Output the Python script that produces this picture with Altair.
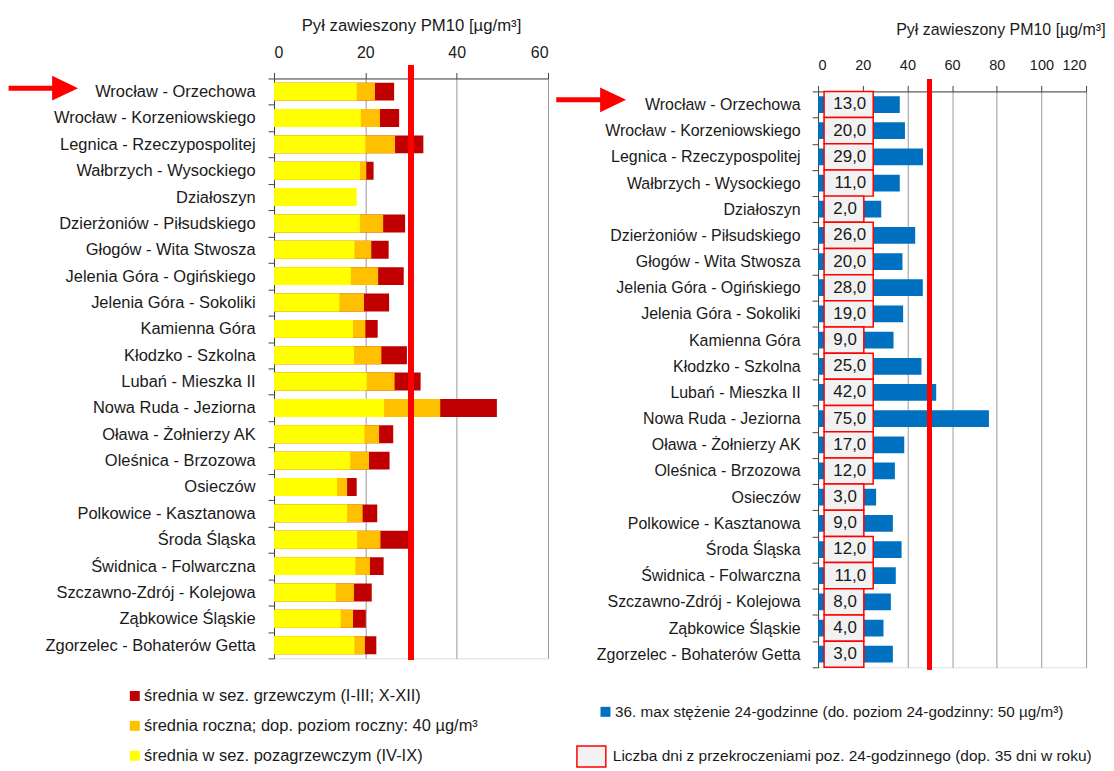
import altair as alt
import pandas as pd

stations = ["Wrocław - Orzechowa", "Wrocław - Korzeniowskiego", "Legnica - Rzeczypospolitej",
            "Wałbrzych - Wysockiego", "Działoszyn", "Dzierżoniów - Piłsudskiego",
            "Głogów - Wita Stwosza", "Jelenia Góra - Ogińskiego", "Jelenia Góra - Sokoliki",
            "Kamienna Góra", "Kłodzko - Szkolna", "Lubań - Mieszka II", "Nowa Ruda - Jeziorna",
            "Oława - Żołnierzy AK", "Oleśnica - Brzozowa", "Osieczów", "Polkowice - Kasztanowa",
            "Środa Śląska", "Świdnica - Folwarczna", "Szczawno-Zdrój - Kolejowa",
            "Ząbkowice Śląskie", "Zgorzelec - Bohaterów Getta"]

nonheating = [18.1, 19.0, 20.0, 18.8, 18.1, 18.8, 17.6, 16.8, 14.3, 17.3, 17.5,
              20.3, 24.1, 19.8, 16.7, 13.8, 16.0, 18.2, 17.8, 13.5, 14.6, 17.6]
annual = [22.1, 23.2, 26.5, 20.2, None, 23.9, 21.3, 22.8, 19.7, 20.0, 23.5,
          26.4, 36.4, 23.0, 20.8, 16.0, 19.4, 23.3, 21.0, 17.5, 17.3, 19.9]
heating = [26.3, 27.4, 32.7, 21.8, None, 28.7, 25.1, 28.4, 25.2, 22.7, 29.1,
           32.1, 48.8, 26.1, 25.3, 18.1, 22.6, 29.4, 24.0, 21.4, 20.1, 22.4]
max36 = [36.6, 38.9, 47.0, 36.6, 28.3, 43.5, 37.8, 46.9, 38.1, 33.8, 46.3,
         52.9, 76.5, 38.6, 34.4, 26.0, 33.5, 37.4, 34.8, 32.6, 29.3, 33.5]
exceed_days = [13, 20, 29, 11, 2, 26, 20, 28, 19, 9, 25, 42, 75, 17, 12, 3, 9, 12, 11, 8, 4, 3]

series_names = ["średnia w sez. grzewczym (I-III; X-XII)",
                "średnia roczna; dop. poziom roczny: 40 µg/m³",
                "średnia w sez. pozagrzewczym (IV-IX)"]
series_colors = ["#C00000", "#FFC000", "#FFFF00"]
blue_name = "36. max stężenie 24-godzinne (do. poziom 24-godzinny: 50 µg/m³)"
box_name = "Liczba dni z przekroczeniami poz. 24-godzinnego (dop. 35 dni w roku)"
axis_title = "Pył zawieszony PM10 [µg/m³]"
annual_limit_line = 30
daily_limit_line = 50
left_ticks = [0, 20, 40, 60]
right_ticks = [0, 20, 40, 60, 80, 100, 120]

FONT = "Liberation Sans"
TXT = "#1a1a1a"

# ---------- left data ----------
rows = []
for i, s in enumerate(stations):
    for k, (name, vals) in enumerate(zip(series_names, [heating, annual, nonheating])):
        if vals[i] is not None:
            rows.append({"station": s, "series": name, "value": vals[i], "draw": k})
left_df = pd.DataFrame(rows)
arrow_df = pd.DataFrame({"station": [stations[0]]})

right_df = pd.DataFrame({"station": stations, "max36": max36, "days": exceed_days})

H_L, W_L = 582, 275
H_R, W_R = 578, 269


def y_enc(font_size, pad):
    return alt.Y("station:N", sort=stations,
                 scale=alt.Scale(paddingInner=0, paddingOuter=0),
                 axis=alt.Axis(title=None, tickBand="extent", tickSize=6, labelPadding=pad,
                               labelFontSize=font_size, labelColor=TXT, labelFont=FONT,
                               labelLimit=400, domainColor="#444", tickColor="#444",
                               grid=False))


def extender(df, y_from, y_to):
    # invisible guide that fixes the panel's layout extent
    return alt.Chart(df).mark_rule(opacity=0, strokeWidth=0.1).encode(
        x=alt.value(0), y=alt.value(y_from), y2=alt.value(y_to))


def arrow(x_start, x_tip, dy):
    shaft = alt.Chart(arrow_df).mark_bar(height=5, color="#FF0000", yOffset=dy).encode(
        x=alt.value(x_start), x2=alt.value(x_tip - 20), y=alt.Y("station:N", sort=stations))
    head = alt.Chart(arrow_df).mark_point(shape="M-1,-0.96L1,0L-1,0.96Z", size=676, filled=True,
                                          color="#FF0000", opacity=1, strokeWidth=0,
                                          yOffset=dy).encode(
        x=alt.value(x_tip - 13), y=alt.Y("station:N", sort=stations))
    return shaft, head


# ---------- left chart ----------
left_bars = alt.Chart(left_df).mark_bar(height={"band": 0.68}).encode(
    x=alt.X("value:Q", stack=None, scale=alt.Scale(domain=[0, 60], nice=False),
            axis=alt.Axis(orient="top", values=left_ticks, tickSize=6, labelPadding=12.5,
                          labelFontSize=16, labelColor=TXT, labelFont=FONT,
                          title=axis_title, titleFontSize=16.8, titleFontWeight="normal",
                          titleFont=FONT, titleColor=TXT, titleX=W_L / 2, titleY=-53,
                          titleBaseline="middle", titleAlign="center",
                          gridColor="#9a9a9a", domainColor="#444", tickColor="#444")),
    y=y_enc(16.5, 13),
    color=alt.Color("series:N", scale=alt.Scale(domain=series_names, range=series_colors),
                    legend=alt.Legend(orient="none", legendX=-148, legendY=611.5, title=None,
                                      direction="vertical", symbolType="square",
                                      symbolSize=100, symbolStrokeWidth=0, labelFontSize=16.5,
                                      labelFont=FONT, labelColor=TXT, labelLimit=600,
                                      rowPadding=13, labelOffset=1, padding=0)),
    order=alt.Order("draw:Q"),
)

left_line = alt.Chart(left_df).mark_rule(color="#FF0000", strokeWidth=4.5).encode(
    x=alt.datum(annual_limit_line), y=alt.value(-13), y2=alt.value(H_L + 1))

left_shaft, left_head = arrow(-266.4, -196.7, -3.5)

left = alt.layer(left_bars, left_line, extender(left_df, -68, 0), extender(left_df, 0, 736),
                 left_shaft, left_head).properties(width=W_L, height=H_L)

# ---------- right chart ----------
base_r = alt.Chart(right_df).transform_calculate(
    bar_label=f"'{blue_name}'",
    box_label=f"'{box_name}'",
    box_start="2.7",
    box_end="datum.days >= 10 ? 24.7 : 20.5",
    label="replace(format(datum.days, '.1f'), '.', ',')",
)

right_bars = base_r.mark_bar(height={"band": 0.64}).encode(
    x=alt.X("max36:Q", scale=alt.Scale(domain=[0, 120], nice=False),
            axis=alt.Axis(orient="top", values=right_ticks, tickSize=6, labelPadding=12.5,
                          labelFontSize=14.5, labelColor=TXT, labelFont=FONT,
                          title=axis_title, titleFontSize=16, titleFontWeight="normal",
                          titleFont=FONT, titleColor=TXT, titleX=183, titleY=-62,
                          titleBaseline="middle", titleAlign="center",
                          gridColor="#9a9a9a", domainColor="#444", tickColor="#444")),
    y=y_enc(16, 12),
    color=alt.Color("bar_label:N", scale=alt.Scale(domain=[blue_name], range=["#0070C0"]),
                    legend=alt.Legend(orient="none", legendX=-221, legendY=615, title=None,
                                      symbolType="square", symbolSize=100, symbolStrokeWidth=0,
                                      labelFontSize=15.3, labelFont=FONT, labelColor=TXT,
                                      labelLimit=700, labelOffset=2, padding=0)),
)

right_boxes = base_r.mark_rect(fill="#F2F2F2", strokeWidth=1.5).encode(
    x="box_start:Q", x2="box_end:Q",
    y=alt.Y("station:N", sort=stations),
    stroke=alt.Stroke("box_label:N", scale=alt.Scale(domain=[box_name], range=["#FF0000"]),
                      legend=alt.Legend(orient="none", legendX=-243, legendY=652, title=None,
                                        symbolType="M-1,-0.72L1,-0.72L1,0.72L-1,0.72Z",
                                        symbolSize=841, symbolStrokeWidth=1.5,
                                        symbolFillColor="white",
                                        labelFontSize=15.5, labelFont=FONT, labelColor=TXT,
                                        labelLimit=700, labelOffset=6, padding=0)),
)

right_text = base_r.mark_text(align="right", baseline="middle", dx=-7, fontSize=17,
                              font=FONT, color=TXT).encode(
    x="box_end:Q", y=alt.Y("station:N", sort=stations), text="label:N")

right_line = alt.Chart(right_df).mark_rule(color="#FF0000", strokeWidth=4.5).encode(
    x=alt.datum(daily_limit_line), y=alt.value(-12), y2=alt.value(H_R + 2))

right_shaft, right_head = arrow(-262.7, -192.7, -4.7)

right = alt.layer(right_bars, right_boxes, right_text, right_line,
                  extender(right_df, -81, 0), extender(right_df, 0, 710),
                  right_shaft, right_head).properties(width=W_R, height=H_R)

chart = alt.hconcat(left, right, spacing=6, center=True).resolve_scale(
    color="independent", stroke="independent", x="independent", y="independent"
).properties(padding=0).configure_view(stroke="#444", strokeWidth=1).configure(
    font=FONT, background="white")

chart.save("out.html", embed_options={"renderer": "svg", "actions": False})
